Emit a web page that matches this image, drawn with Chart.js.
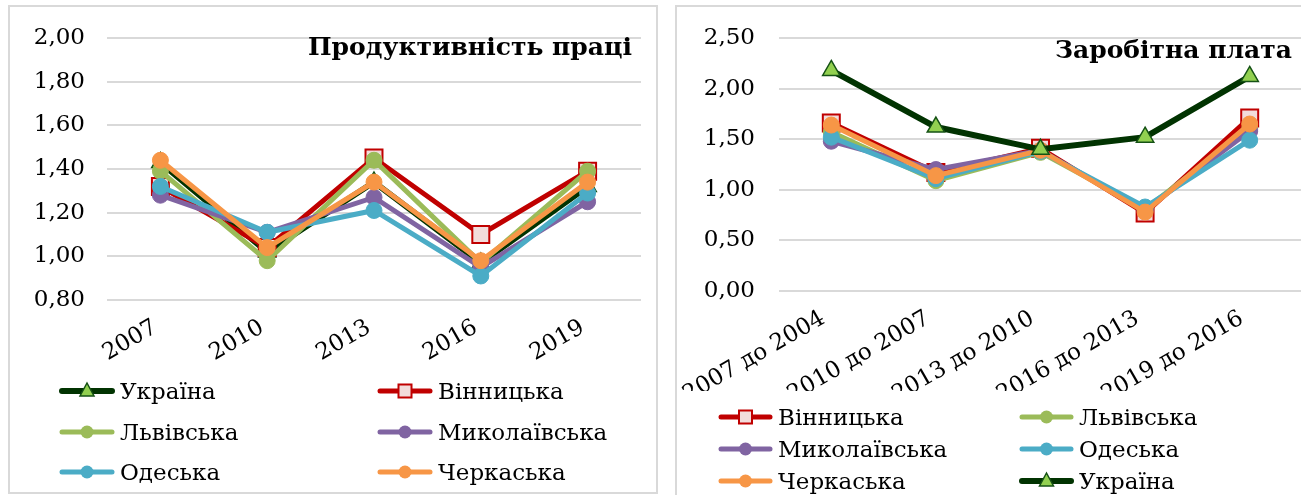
<!DOCTYPE html>
<html><head><meta charset="utf-8">
<script src="https://cdn.jsdelivr.net/npm/chart.js@4.4.1/dist/chart.umd.min.js"></script>
<style>
html,body{margin:0;padding:0;width:1301px;height:495px;overflow:hidden;background:#fff;}
.box{position:absolute;border:2px solid #d9d9d9;box-sizing:border-box;}
.wrap{position:absolute;}
.title{position:absolute;font-family:"DejaVu Serif","Liberation Serif",serif;font-weight:bold;font-size:25px;line-height:25px;color:#000;white-space:nowrap;}
.leg{position:absolute;height:26px;display:flex;align-items:center;font-family:"DejaVu Serif","Liberation Serif",serif;font-size:23px;line-height:26px;color:#000;white-space:nowrap;}
.leg svg{display:block;margin-right:5px;}
</style></head><body>
<div class="box" style="left:8px;top:5px;width:650px;height:489px"></div>
<div class="box" style="left:675px;top:5px;width:640px;height:510px"></div>
<div class="wrap" style="left:9px;top:6px"><canvas id="c1" width="648" height="487"></canvas></div>
<div class="wrap" style="left:660px;top:6px"><canvas id="c2" width="656" height="500"></canvas></div>
<div class="title" style="right:669px;top:34px">Продуктивність праці</div>
<div class="title" style="right:9px;top:37px">Заробітна плата</div>
<div id="legends"></div>
<script>
// ---- categories ----
const prodCategories = ['2007', '2010', '2013', '2016', '2019'];
const wageCategories = ['2007 до 2004', '2010 до 2007', '2013 до 2010', '2016 до 2013', '2019 до 2016'];
// ---- y tick values ----
const prodYTicks = [0.80, 1.00, 1.20, 1.40, 1.60, 1.80, 2.00];
const wageYTicks = [0.00, 0.50, 1.00, 1.50, 2.00, 2.50];
// ---- Продуктивність праці ----
const prodUkraine = [1.43, 1.02, 1.34, 0.97, 1.32];
const prodVinnytsia = [1.32, 1.04, 1.45, 1.10, 1.39];
const prodLviv = [1.39, 0.98, 1.44, 0.97, 1.39];
const prodMykolaiv = [1.28, 1.11, 1.27, 0.95, 1.25];
const prodOdesa = [1.32, 1.11, 1.21, 0.91, 1.29];
const prodCherkasy = [1.44, 1.04, 1.34, 0.98, 1.34];
// ---- Заробітна плата ----
const wageVinnytsia = [1.66, 1.17, 1.41, 0.77, 1.71];
const wageLviv = [1.57, 1.09, 1.37, 0.81, 1.60];
const wageMykolaiv = [1.48, 1.20, 1.39, 0.80, 1.58];
const wageOdesa = [1.52, 1.11, 1.38, 0.83, 1.49];
const wageCherkasy = [1.64, 1.14, 1.39, 0.78, 1.65];
const wageUkraine = [2.18, 1.62, 1.40, 1.52, 2.12];

const STY = {
  'Україна':      {color:'#013301', width:6, point:'triangle', radius:10, fill:'#92d050', border:'#155215', bw:1.5},
  'Вінницька':    {color:'#c00000', width:5, point:'rect', radius:12, fill:'#f2dcdb', border:'#c00000', bw:2},
  'Львівська':    {color:'#9bbb59', width:5, point:'circle', radius:8, fill:'#9bbb59', border:'#9bbb59', bw:1},
  'Миколаївська': {color:'#8064a2', width:5, point:'circle', radius:8, fill:'#8064a2', border:'#8064a2', bw:1},
  'Одеська':      {color:'#4bacc6', width:5, point:'circle', radius:8, fill:'#4bacc6', border:'#4bacc6', bw:1},
  'Черкаська':    {color:'#f79646', width:5, point:'circle', radius:8, fill:'#f79646', border:'#f79646', bw:1}
};

const prodSeries = [
  {name:'Україна', data:prodUkraine},
  {name:'Вінницька', data:prodVinnytsia},
  {name:'Львівська', data:prodLviv},
  {name:'Миколаївська', data:prodMykolaiv},
  {name:'Одеська', data:prodOdesa},
  {name:'Черкаська', data:prodCherkasy}
];
const wageSeries = [
  {name:'Вінницька', data:wageVinnytsia},
  {name:'Львівська', data:wageLviv},
  {name:'Миколаївська', data:wageMykolaiv},
  {name:'Одеська', data:wageOdesa},
  {name:'Черкаська', data:wageCherkasy},
  {name:'Україна', data:wageUkraine}
];

const FONT = {family:"'DejaVu Serif', 'Liberation Serif', serif", size:23};

function makeChart(canvas, labels, yTicks, series, cfg) {
  return new Chart(canvas, {
    type: 'line',
    data: {
      labels: labels,
      datasets: series.map((s, i) => {
        const st = STY[s.name];
        return {
          label: s.name, data: s.data,
          borderColor: st.color, borderWidth: st.width, backgroundColor: st.fill,
          pointStyle: st.point, pointRadius: st.radius, pointHoverRadius: st.radius,
          pointBackgroundColor: st.fill, pointBorderColor: st.border, pointBorderWidth: st.bw,
          tension: 0, fill: false, order: series.length - i
        };
      })
    },
    options: {
      responsive: false, animation: false, events: [],
      layout: {padding: cfg.padding},
      plugins: {legend: {display: false}, tooltip: {enabled: false}},
      scales: {
        x: {
          offset: true,
          grid: {display: false, drawTicks: false},
          border: {display: false},
          ticks: {font: FONT, color: '#000', minRotation: 30, maxRotation: 30, padding: cfg.xPad,
                  labelOffset: cfg.xShift, autoSkip: false},
          afterFit: s => { s.height = cfg.xH; }
        },
        y: {
          min: yTicks[0], max: yTicks[yTicks.length - 1],
          afterBuildTicks: s => { s.ticks = yTicks.map(v => ({value: v})); },
          grid: {color: '#d9d9d9', lineWidth: 2, drawTicks: true, tickLength: cfg.yGap, tickColor: 'rgba(0,0,0,0)'},
          border: {display: false},
          ticks: {font: FONT, color: '#000', padding: 0, callback: v => Number(v).toFixed(2).replace('.', ',')},
          afterFit: s => { s.width = cfg.yW; }
        }
      }
    }
  });
}

makeChart(document.getElementById('c1'), prodCategories, prodYTicks, prodSeries,
  {padding: {left: 0, top: 32, right: 16, bottom: 93}, xH: 100, yW: 98, yGap: 22, xPad: 14, xShift: -5});
makeChart(document.getElementById('c2'), wageCategories, wageYTicks, wageSeries,
  {padding: {left: 0, top: 32, right: 13, bottom: 115}, xH: 100, yW: 119, yGap: 24, xPad: 14, xShift: -8});

// ---- HTML legends (line sample + marker + text) ----
function symbolSVG(st, w) {
  const cy = 13, cx = w / 2;
  let m = '';
  if (st.point === 'circle') m = `<circle cx="${cx}" cy="${cy}" r="6.5" fill="${st.fill}"/>`;
  else if (st.point === 'rect') m = `<rect x="${cx-6.5}" y="${cy-6.5}" width="13" height="13" fill="${st.fill}" stroke="${st.border}" stroke-width="2"/>`;
  else m = `<polygon points="${cx},${cy-8} ${cx+7},${cy+5} ${cx-7},${cy+5}" fill="${st.fill}" stroke="${st.border}" stroke-width="1.5"/>`;
  return `<svg width="${w}" height="26"><line x1="3" y1="${cy}" x2="${w-3}" y2="${cy}" stroke="${st.color}" stroke-width="${st.width}" stroke-linecap="round"/>${m}</svg>`;
}
function buildLegend(series, cols, rows, w) {
  let html = '';
  series.forEach((s, i) => {
    const x = cols[i % 2], y = rows[Math.floor(i / 2)];
    html += `<div class="leg" style="left:${x}px;top:${y - 13}px">${symbolSVG(STY[s.name], w)}<span style="font-family:'DejaVu Serif','Liberation Serif',serif">${s.name}</span></div>`;
  });
  return html;
}
document.getElementById('legends').innerHTML =
  buildLegend(prodSeries, [59, 377], [391, 432, 472], 56) +
  buildLegend(wageSeries, [718, 1019], [417, 449, 481], 55);
</script>
</body></html>
